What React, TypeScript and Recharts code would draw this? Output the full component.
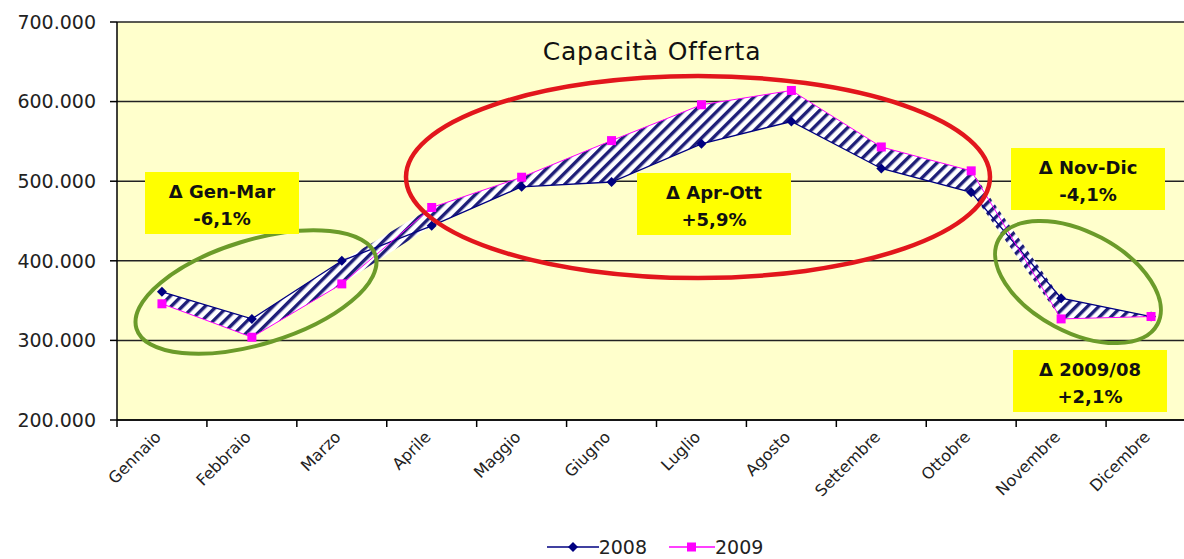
import React from 'react';
import {
  ComposedChart,
  Area,
  Line,
  XAxis,
  YAxis,
  CartesianGrid,
  Legend,
} from 'recharts';

// values
const months = [
  'Gennaio', 'Febbraio', 'Marzo', 'Aprile', 'Maggio', 'Giugno',
  'Luglio', 'Agosto', 'Settembre', 'Ottobre', 'Novembre', 'Dicembre',
];
const cap2008 = [361000, 327000, 400000, 444000, 493000, 499000, 547000, 575000, 516000, 486000, 353000, 330000];
const cap2009 = [346000, 304000, 371000, 467000, 505000, 551000, 596000, 614000, 543000, 513000, 327000, 330000];
const yTicks = [200000, 300000, 400000, 500000, 600000, 700000];

const notes = [
  { label: 'Δ Gen-Mar', delta: '-6,1%', x: 145, y: 172 },
  { label: 'Δ Apr-Ott', delta: '+5,9%', x: 637, y: 173 },
  { label: 'Δ Nov-Dic', delta: '-4,1%', x: 1011, y: 148 },
  { label: 'Δ 2009/08', delta: '+2,1%', x: 1013, y: 350 },
];

const data = months.map((m, i) => ({
  month: m,
  y2008: cap2008[i],
  y2009: cap2009[i],
}));

const CHART_W = 1200;
const CHART_H = 559;
const Y_AXIS_W = 117;
const RIGHT = 4;
const BAND = (CHART_W - Y_AXIS_W - RIGHT) / months.length;
const FONT = '"DejaVu Sans", Verdana, sans-serif';

const fmt = (v: number) => String(v).replace(/\B(?=(\d{3})+(?!\d))/g, '.');

const MonthTick = (props: any) => {
  const { x, y, payload, index } = props;
  const left = x - BAND / 2;
  return (
    <g>
      <line x1={left} y1={y - 7} x2={left} y2={y} stroke="#000" strokeWidth={1.5} />
      {index === months.length - 1 && (
        <line x1={x + BAND / 2} y1={y - 7} x2={x + BAND / 2} y2={y} stroke="#000" strokeWidth={1.5} />
      )}
      <text
        x={x}
        y={y + 11}
        transform={`rotate(-45, ${x}, ${y + 11})`}
        textAnchor="end"
        fontSize={16}
        fill="#222"
        fontFamily={FONT}
      >
        {payload.value}
      </text>
    </g>
  );
};

const diamond = (p: any) => {
  const { cx, cy, index } = p;
  return (
    <path
      key={`d-${index}`}
      d={`M${cx},${cy - 5} L${cx + 5},${cy} L${cx},${cy + 5} L${cx - 5},${cy} Z`}
      fill="#000080"
    />
  );
};

const square = (p: any) => {
  const { cx, cy, index } = p;
  return <rect key={`s-${index}`} x={cx - 4.5} y={cy - 4.5} width={9} height={9} fill="#FF00FF" />;
};

const LegendContent = () => (
  <div
    style={{
      display: 'flex',
      justifyContent: 'center',
      alignItems: 'center',
      height: 24,
      marginLeft: 114,
      fontSize: 19,
      color: '#222',
      fontFamily: FONT,
    }}
  >
    <svg width={52} height={14}>
      <line x1={0} y1={7} x2={52} y2={7} stroke="#000080" strokeWidth={1.5} />
      <path d="M26,2 L31,7 L26,12 L21,7 Z" fill="#000080" />
    </svg>
    <span style={{ marginRight: 22 }}>2008</span>
    <svg width={46} height={14}>
      <line x1={0} y1={7} x2={46} y2={7} stroke="#FF00FF" strokeWidth={1.5} />
      <rect x={18} y={2.5} width={9} height={9} fill="#FF00FF" />
    </svg>
    <span>2009</span>
  </div>
);

export default function App() {
  return (
    <div
      style={{
        position: 'fixed',
        left: 0,
        top: 0,
        width: 1184,
        height: 559,
        overflow: 'hidden',
        background: '#fff',
        fontFamily: FONT,
      }}
    >
      <ComposedChart
        width={CHART_W}
        height={CHART_H}
        data={data}
        margin={{ top: 22, right: RIGHT, left: 0, bottom: 0 }}
      >
        <defs>
          <pattern id="hatch" patternUnits="userSpaceOnUse" width="8" height="8" patternTransform="rotate(45)">
            <rect width="8" height="8" fill="#ffffff" />
            <rect width="3.4" height="8" fill="#1e1e78" />
          </pattern>
        </defs>
        <CartesianGrid fill="#FFFFCC" stroke="#222" strokeWidth={1.5} vertical={false} />
        <XAxis
          dataKey="month"
          interval={0}
          height={115}
          padding={{ left: BAND / 2, right: BAND / 2 }}
          tickSize={7}
          tickMargin={0}
          tickLine={false}
          axisLine={{ stroke: '#000', strokeWidth: 1.5 }}
          tick={<MonthTick />}
        />
        <YAxis
          width={Y_AXIS_W}
          domain={[200000, 700000]}
          ticks={yTicks}
          tickFormatter={fmt}
          tickSize={7}
          tickMargin={14}
          axisLine={{ stroke: '#000', strokeWidth: 1.5 }}
          tickLine={{ stroke: '#000', strokeWidth: 1.5 }}
          tick={{ fill: '#222', fontSize: 19, fontFamily: FONT }}
        />
        <Area
          dataKey={(d: any) => [Math.min(d.y2008, d.y2009), Math.max(d.y2008, d.y2009)]}
          fill="url(#hatch)"
          fillOpacity={1}
          stroke="none"
          legendType="none"
          isAnimationActive={false}
        />
        <Line
          dataKey="y2008"
          name="2008"
          stroke="#000080"
          strokeWidth={1.3}
          dot={diamond}
          activeDot={false}
          isAnimationActive={false}
        />
        <Line
          dataKey="y2009"
          name="2009"
          stroke="#FF00FF"
          strokeWidth={1}
          dot={square}
          activeDot={false}
          isAnimationActive={false}
        />
        <Legend verticalAlign="bottom" content={<LegendContent />} />
      </ComposedChart>

      <svg
        width={1184}
        height={559}
        style={{ position: 'absolute', left: 0, top: 0, pointerEvents: 'none' }}
      >
        <text x={652} y={60} textAnchor="middle" fontSize={25} letterSpacing={0.8} fill="#111" fontFamily={FONT}>
          Capacità Offerta
        </text>
        <ellipse cx={698} cy={177} rx={292} ry={101} fill="none" stroke="#E2161C" strokeWidth={4.5} />
        <ellipse
          cx={256}
          cy={292}
          rx={125}
          ry={52}
          fill="none"
          stroke="#6B9B2A"
          strokeWidth={4}
          transform="rotate(-17, 256, 292)"
        />
        <ellipse
          cx={1078}
          cy={282}
          rx={90}
          ry={50}
          fill="none"
          stroke="#6B9B2A"
          strokeWidth={4}
          transform="rotate(28, 1078, 282)"
        />
        {notes.map((n) => (
          <g key={n.label}>
            <rect x={n.x} y={n.y} width={154} height={62} fill="#FFFF00" />
            <text x={n.x + 77} y={n.y + 26} textAnchor="middle" fontSize={18} fontWeight="bold" fill="#111" fontFamily={FONT}>
              {n.label}
            </text>
            <text x={n.x + 77} y={n.y + 53} textAnchor="middle" fontSize={18} fontWeight="bold" fill="#111" fontFamily={FONT}>
              {n.delta}
            </text>
          </g>
        ))}
      </svg>
    </div>
  );
}
